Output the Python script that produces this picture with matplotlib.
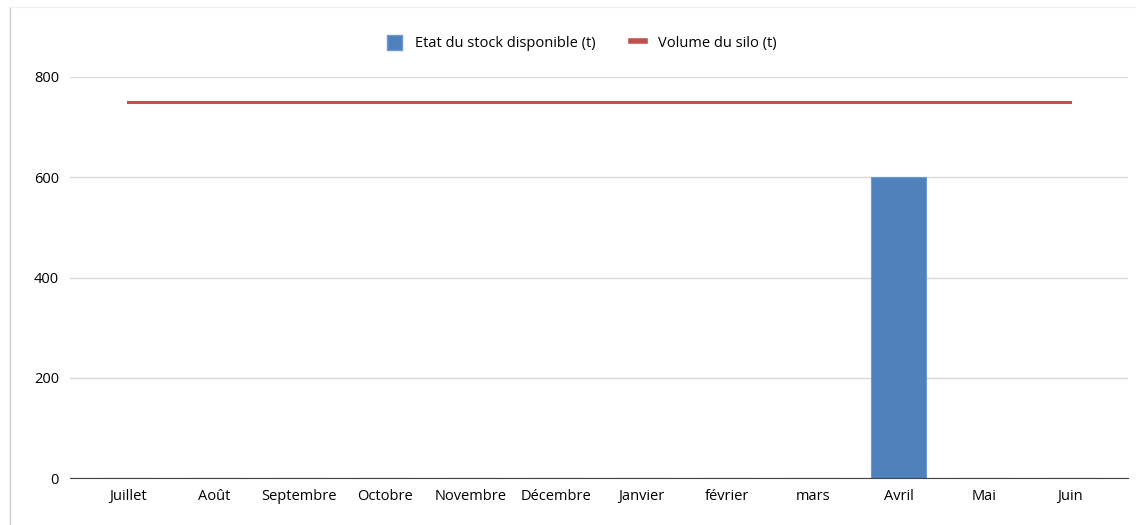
import matplotlib.pyplot as plt
from matplotlib.lines import Line2D
from matplotlib.patches import Patch

months = ["Juillet", "Août", "Septembre", "Octobre", "Novembre", "Décembre",
          "Janvier", "février", "mars", "Avril", "Mai", "Juin"]
stock = [0, 0, 0, 0, 0, 0, 0, 0, 0, 600, 0, 0]
silo = [750] * 12

plt.rcParams['font.family'] = ['Open Sans', 'DejaVu Sans']

fig = plt.figure(figsize=(11.36, 5.25), dpi=100)
ax = fig.add_axes([70 / 1136, 1 - 478 / 525, (1128 - 70) / 1136, (478 - 77) / 525])

x = list(range(len(months)))
ax.bar(x, stock, width=0.65, color="#4f81bd", edgecolor="#6f9ad0", linewidth=0.8, zorder=3)
ax.plot(x, silo, color="#c0504d", linewidth=2.2, zorder=4)

ax.set_xlim(-0.68, 11.68)
ax.set_ylim(0, 800)
ax.set_yticks([0, 200, 400, 600, 800])
ax.set_xticks(x)
ax.set_xticklabels(months)
ax.tick_params(axis="both", length=0, labelsize=10.5, colors="black")
ax.tick_params(axis="y", pad=8)
ax.tick_params(axis="x", pad=8)
ax.grid(axis="y", color="#d9d9d9", linewidth=1, zorder=0)
for s in ["top", "right", "left"]:
    ax.spines[s].set_visible(False)
ax.spines["bottom"].set_color("#444444")
ax.spines["bottom"].set_zorder(5)

# outer frame lines seen in the reference
fig.add_artist(Line2D([10 / 1136, 10 / 1136], [0, 1 - 7 / 525], color="#cccccc", linewidth=1))
fig.add_artist(Line2D([10 / 1136, 1], [1 - 7 / 525, 1 - 7 / 525], color="#f0f0f0", linewidth=1))

handles = [Patch(facecolor="#4f81bd", edgecolor="#6f9ad0"),
           Line2D([0], [0], color="#c0504d", linewidth=4)]
fig.legend(handles, ["Etat du stock disponible (t)", "Volume du silo (t)"],
           loc="center", bbox_to_anchor=(582 / 1136, 1 - 43 / 525), ncol=2,
           frameon=False, fontsize=10.5, handlelength=1.0, handleheight=1.2,
           columnspacing=2.4, handletextpad=0.9)

fig.savefig("out.png", dpi=100)
